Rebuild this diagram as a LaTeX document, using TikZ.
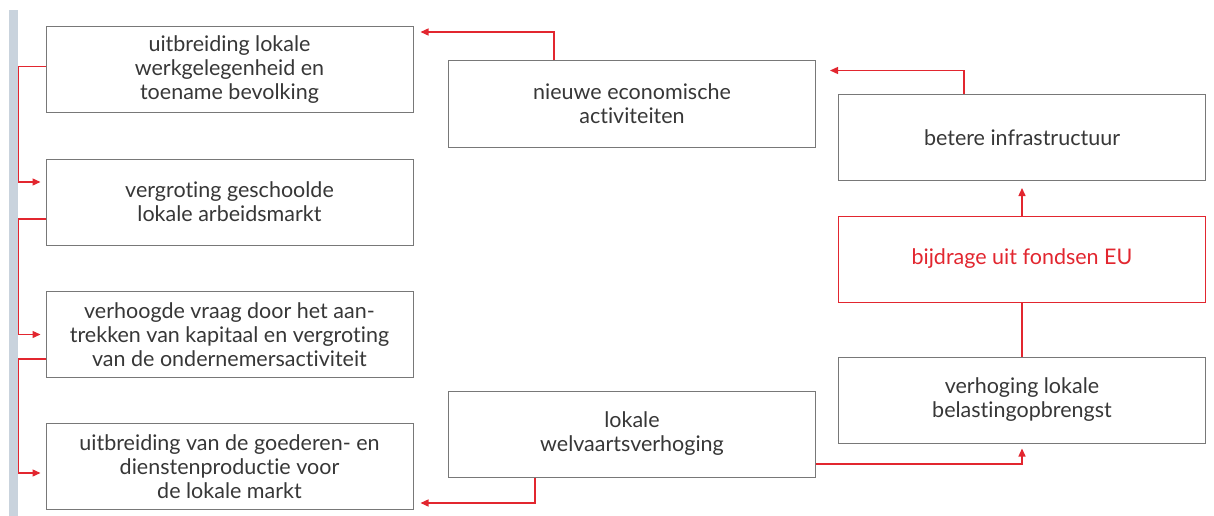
\documentclass[tikz,border=0pt]{standalone}
\usepackage{fontspec}
\setmainfont{Lato}[Ligatures=CommonOff]
\usepackage{tikz}
\usetikzlibrary{positioning}
\usetikzlibrary{arrows.meta}
\definecolor{linkred}{RGB}{226,38,47}
\definecolor{boxgray}{RGB}{120,120,120}
\definecolor{txtgray}{RGB}{55,55,55}
\definecolor{barblue}{RGB}{201,211,221}

\begin{document}
\begin{tikzpicture}[x=1pt,y=-1pt,
		effect/.style={
			draw=boxgray,
			line width=1pt,
			fill=white,
			minimum width=367pt,
			minimum height=86pt,
			align=center,
			text=txtgray,
			font=\fontsize{21.5}{24}\selectfont
		},
		source/.style={effect, draw=linkred, text=linkred},
		link/.style={draw=linkred, line width=1.4pt, -{Triangle[length=8pt,width=7pt]}},
		plain/.style={draw=linkred, line width=1.4pt}]
		\useasboundingbox (0,0) rectangle (1214,516);
		\fill[barblue] (9,10) rectangle (18,516);
		
		% left column
		\node[effect] (werk) at (229.5,69.5) {uitbreiding lokale\\werkgelegenheid en\\toename bevolking};
		\node[effect] (arbeid) at (229.5,202) {vergroting geschoolde\\lokale arbeidsmarkt};
		\node[effect] (vraag) at (229.5,334.5) {verhoogde vraag door het aan-\\trekken van kapitaal en vergroting\\van de ondernemersactiviteit};
		\node[effect] (productie) at (229.5,466.5) {uitbreiding van de goederen- en\\dienstenproductie voor\\de lokale markt};
		
		% middle column
		\node[effect] (nieuw) at (632,104) {nieuwe economische\\activiteiten};
		\node[effect] (welvaart) at (632,434) {lokale\\welvaartsverhoging};
		
		% right column
		\node[effect] (infra) at (1022,137.5) {betere infrastructuur};
		\node[source] (fonds) at (1022,259) {bijdrage uit fondsen EU};
		\node[effect] (belasting) at (1022,400) {verhoging lokale\\belastingopbrengst};
		
		\draw[link] ([yshift=3pt]werk.west) --++(-27pt,0) |- ([xshift=-5pt,yshift=20pt]arbeid.west);
		\draw[link] ([yshift=-17pt]arbeid.west) --++(-27pt,0) |- ([xshift=-5pt]vraag.west);
		\draw[link] ([yshift=-24.5pt]vraag.west) --++(-27pt,0) |- ([xshift=-5pt,yshift=-6.5pt]productie.west);
		
		\draw[link] ([xshift=-78pt]nieuw.north) |- ([xshift=7pt,yshift=-6pt]werk.north east);
		\draw[link] ([xshift=-97pt]welvaart.south) |- ([xshift=7pt,yshift=7pt]productie.south east);
		\draw[link] ([yshift=-30pt]welvaart.east) -| ([yshift=-5pt]belasting.south);
		\draw[plain] (belasting.north) -- (fonds.south);
		\draw[link] (fonds.north) -- ([yshift=-7pt]infra.south);
		\draw[link] ([xshift=-58pt]infra.north) |- ([xshift=14pt,yshift=-10pt]nieuw.north east);
	\end{tikzpicture}
\end{document}
